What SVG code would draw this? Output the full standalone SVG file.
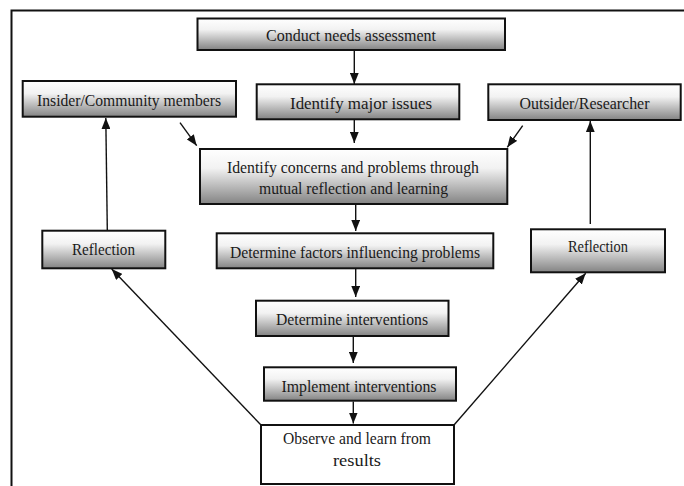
<svg xmlns="http://www.w3.org/2000/svg" width="684" height="486" viewBox="0 0 684 486" font-family="Liberation Serif, DejaVu Serif, Times New Roman, serif">
<style>
.box{fill:url(#g);stroke:#111;stroke-width:2}
.plain{fill:#fff;stroke:#111;stroke-width:2}
.t{font-family:'Liberation Serif',serif;font-size:17px;fill:#1a1a1a;text-anchor:middle}
.c line{stroke:#111;stroke-width:1.4;fill:none}
.a{marker-end:url(#ah)}
</style>
<defs>
<linearGradient id="g" x1="0" y1="0" x2="0" y2="1">
<stop offset="0" stop-color="#ffffff"/>
<stop offset="0.35" stop-color="#f2f2f2"/>
<stop offset="1" stop-color="#838383"/>
</linearGradient>
<marker id="ah" viewBox="0 0 10 8" refX="10" refY="4" markerWidth="11" markerHeight="9" markerUnits="userSpaceOnUse" orient="auto">
<path d="M0,0 L10,4 L0,8 Z" fill="#111"/>
</marker>
</defs>
<rect width="684" height="486" fill="#fff"/>
<path d="M11.5,486 V10.5 H684" fill="none" stroke="#111" stroke-width="2"/>
<g class="c" id="connectors">
<line class="a" x1="354.3" y1="51" x2="354.3" y2="84"/>
<line class="a" x1="354.3" y1="120" x2="354.3" y2="143"/>
<line class="a" x1="180" y1="122.7" x2="196.7" y2="145.7"/>
<line class="a" x1="522.7" y1="125.7" x2="507.3" y2="147.3"/>
<line class="a" x1="355.7" y1="205" x2="355.7" y2="231"/>
<line class="a" x1="355.7" y1="269" x2="355.7" y2="297"/>
<line class="a" x1="353.3" y1="337" x2="353.3" y2="363"/>
<line class="a" x1="353.3" y1="401.5" x2="353.3" y2="423.5"/>
<line class="a" x1="107.3" y1="230" x2="105.8" y2="118"/>
<line class="a" x1="590.3" y1="224" x2="590.3" y2="121"/>
<line class="a" x1="261" y1="425" x2="111.7" y2="269"/>
<line class="a" x1="454" y1="425" x2="585.7" y2="273.3"/>
</g>
<g id="conduct"><rect class="box" x="197.5" y="18.5" width="307.5" height="31.5"/><text class="t" x="351" y="41" textLength="170" lengthAdjust="spacingAndGlyphs">Conduct needs assessment</text></g>
<g id="insider"><rect class="box" x="22.7" y="81" width="213.3" height="35.7"/><text class="t" x="129" y="105.5" textLength="184" lengthAdjust="spacingAndGlyphs">Insider/Community members</text></g>
<g id="major"><rect class="box" x="256.7" y="84.3" width="202.6" height="35"/><text class="t" x="361" y="108.5" font-size="17.5" textLength="142" lengthAdjust="spacingAndGlyphs">Identify major issues</text></g>
<g id="outsider"><rect class="box" x="488.3" y="84.3" width="192.4" height="35.7"/><text class="t" x="584.5" y="109" textLength="130" lengthAdjust="spacingAndGlyphs">Outsider/Researcher</text></g>
<g id="concerns"><rect class="box" x="200" y="149" width="307.3" height="55"/><text class="t" x="353" y="173" textLength="252" lengthAdjust="spacingAndGlyphs">Identify concerns and problems through</text><text class="t" x="353.5" y="194" textLength="189" lengthAdjust="spacingAndGlyphs">mutual reflection and learning</text></g>
<g id="reflectionL"><rect class="box" x="42.3" y="230.7" width="123" height="37.6"/><text class="t" x="103.5" y="254.5" font-size="16" textLength="63" lengthAdjust="spacingAndGlyphs">Reflection</text></g>
<g id="factors"><rect class="box" x="216.7" y="233.3" width="276.6" height="35"/><text class="t" x="355" y="258" textLength="250" lengthAdjust="spacingAndGlyphs">Determine factors influencing problems</text></g>
<g id="reflectionR"><rect class="box" x="531" y="229.3" width="134" height="43"/><text class="t" x="598" y="252" font-size="15.5" textLength="60" lengthAdjust="spacingAndGlyphs">Reflection</text></g>
<g id="determine"><rect class="box" x="256" y="300.7" width="192.5" height="35.3"/><text class="t" x="352" y="325" textLength="152" lengthAdjust="spacingAndGlyphs">Determine interventions</text></g>
<g id="implement"><rect class="box" x="264" y="367.3" width="192" height="33.4"/><text class="t" x="359" y="391.5" textLength="155" lengthAdjust="spacingAndGlyphs">Implement interventions</text></g>
<g id="observe"><rect class="plain" x="261" y="425" width="193" height="59"/><text class="t" x="357" y="444" textLength="148" lengthAdjust="spacingAndGlyphs">Observe and learn from</text><text class="t" x="357" y="465.5" textLength="48" lengthAdjust="spacingAndGlyphs">results</text></g>
</svg>
